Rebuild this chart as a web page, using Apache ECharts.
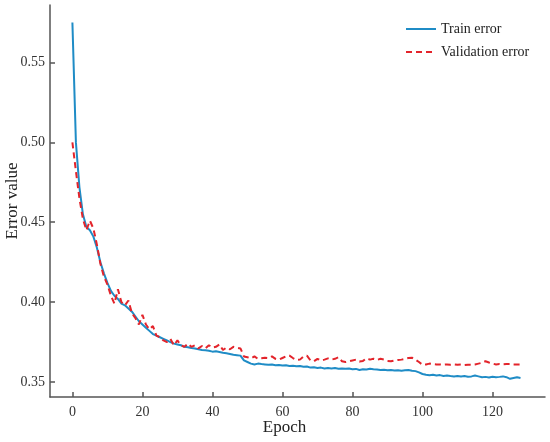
<!DOCTYPE html>
<html>
<head>
<meta charset="utf-8">
<script src="https://cdn.jsdelivr.net/npm/echarts@6/dist/echarts.min.js"></script>
<style>
html, body { margin: 0; padding: 0; background: #fff; }
#chart { width: 550px; height: 442px; }
</style>
</head>
<body>
<div id="chart"></div>
<script>
// epochs 0..128
var trainError = [
  0.575, 0.500, 0.472, 0.455, 0.447, 0.445, 0.441, 0.434, 0.425, 0.418,
  0.412, 0.407, 0.404, 0.402, 0.399, 0.398, 0.396, 0.394, 0.391, 0.388,
  0.386, 0.384, 0.382, 0.380, 0.379, 0.378, 0.377, 0.376, 0.375, 0.374,
  0.3735, 0.373, 0.372, 0.3718, 0.3713, 0.371, 0.3705, 0.370, 0.3698, 0.3695,
  0.369, 0.3692, 0.3688, 0.3683, 0.368, 0.3675, 0.367, 0.3668, 0.3665, 0.3635,
  0.3625, 0.3615, 0.361, 0.3615, 0.3612, 0.361, 0.3608, 0.361, 0.3605, 0.3607,
  0.3603, 0.3605, 0.360, 0.3602, 0.3598, 0.360, 0.3595, 0.3597, 0.359, 0.3592,
  0.3588, 0.359, 0.3585, 0.3588, 0.3585, 0.3587, 0.3583, 0.3585, 0.3583, 0.3585,
  0.358, 0.3582, 0.3575, 0.358, 0.3578, 0.3583, 0.358, 0.3578, 0.3575, 0.3576,
  0.3573, 0.3575, 0.3572, 0.3574, 0.357, 0.3573, 0.3575, 0.357, 0.3568, 0.356,
  0.355, 0.3545, 0.3542, 0.3545, 0.354, 0.3543, 0.3538, 0.354, 0.3537, 0.3535,
  0.3538, 0.3535, 0.3537, 0.3533, 0.3535, 0.354, 0.3535, 0.353, 0.3532, 0.3528,
  0.3533, 0.353, 0.3532, 0.3535, 0.353, 0.352, 0.3525, 0.353, 0.3525
];
var validationError = [
  0.500, 0.482, 0.465, 0.452, 0.445, 0.451, 0.446, 0.436, 0.424, 0.416,
  0.411, 0.404, 0.399, 0.408, 0.400, 0.398, 0.401, 0.393, 0.390, 0.386,
  0.392, 0.386, 0.383, 0.385, 0.379, 0.378, 0.376, 0.375, 0.377, 0.373,
  0.376, 0.373, 0.372, 0.374, 0.372, 0.373, 0.371, 0.3725, 0.371, 0.373,
  0.3715, 0.372, 0.3735, 0.370, 0.3715, 0.3705, 0.372, 0.3715, 0.371, 0.366,
  0.3655, 0.3648, 0.366, 0.3645, 0.3648, 0.3652, 0.365, 0.366, 0.3645, 0.364,
  0.365, 0.366, 0.3665, 0.365, 0.3638, 0.364, 0.366, 0.3665, 0.3635, 0.363,
  0.3645, 0.3635, 0.364, 0.3648, 0.364, 0.3645, 0.3655, 0.363, 0.3625, 0.363,
  0.3635, 0.364, 0.3628, 0.3632, 0.3648, 0.364, 0.3645, 0.3638, 0.3645, 0.364,
  0.3632, 0.363, 0.3635, 0.3638, 0.364, 0.3645, 0.365, 0.3652, 0.364, 0.3625,
  0.3608, 0.361, 0.3615, 0.3612, 0.361, 0.361, 0.3608, 0.361, 0.3608, 0.361,
  0.3608, 0.361, 0.3606, 0.3608, 0.3607, 0.361, 0.3615, 0.362, 0.363, 0.3622,
  0.3615, 0.361, 0.3612, 0.361, 0.3612, 0.3612, 0.361, 0.361, 0.361
];
var xTicks = [0, 20, 40, 60, 80, 100, 120];
var yTicks = [0.35, 0.40, 0.45, 0.50, 0.55];
var seriesNames = ['Train error', 'Validation error'];

function pairs(arr) {
  var out = [];
  for (var i = 0; i < arr.length; i++) out.push([i, arr[i]]);
  return out;
}

var font = '"Liberation Serif", "DejaVu Serif", serif';
var axisColor = '#555';

var myChart = echarts.init(document.getElementById('chart'));
var option = {
  animation: false,
  backgroundColor: '#fff',
  grid: { left: 50, right: 5, top: 5, bottom: 45, containLabel: false, outerBoundsMode: 'none' },
  legend: {
    orient: 'vertical',
    left: 400,
    top: 17,
    itemWidth: 30,
    itemHeight: 10,
    itemGap: 9,
    itemStyle: { opacity: 0 },
    textStyle: { fontFamily: font, fontSize: 14, color: '#222' },
    data: seriesNames
  },
  xAxis: {
    type: 'value',
    min: -6.4,
    max: 135,
    name: 'Epoch',
    nameLocation: 'middle',
    nameGap: 22,
    nameMoveOverlap: false,
    nameTextStyle: { fontFamily: font, fontSize: 17, color: '#222', padding: [0, 26, 0, 0] },
    axisLine: { onZero: false, lineStyle: { color: axisColor, width: 1.5 } },
    axisTick: { inside: true, length: 5, customValues: xTicks, lineStyle: { color: axisColor, width: 1.5 } },
    axisLabel: { customValues: xTicks, margin: 8, fontFamily: font, fontSize: 14, color: '#333' },
    splitLine: { show: false }
  },
  yAxis: {
    type: 'value',
    min: 0.3406,
    max: 0.586,
    name: 'Error value',
    nameLocation: 'middle',
    nameGap: 29,
    nameMoveOverlap: false,
    nameTextStyle: { fontFamily: font, fontSize: 17, color: '#222' },
    axisLine: { show: true, onZero: false, lineStyle: { color: axisColor, width: 1.5 } },
    axisTick: { show: true, inside: true, length: 5, customValues: yTicks, lineStyle: { color: axisColor, width: 1.5 } },
    axisLabel: {
      customValues: yTicks, margin: 5, fontFamily: font, fontSize: 14, color: '#333',
      formatter: function (v) { return v.toFixed(2); }
    },
    splitLine: { show: false }
  },
  series: [{
    name: seriesNames[0],
    type: 'line',
    symbol: 'none',
    data: pairs(trainError),
    lineStyle: { color: '#1f8cc6', width: 2 },
    itemStyle: { color: '#1f8cc6' },
    z: 2
  }, {
    name: seriesNames[1],
    type: 'line',
    symbol: 'none',
    data: pairs(validationError),
    lineStyle: { color: '#e3242b', width: 2, type: [6, 4] },
    itemStyle: { color: '#e3242b' },
    z: 3
  }]
};
myChart.setOption(option);
</script>
</body>
</html>
